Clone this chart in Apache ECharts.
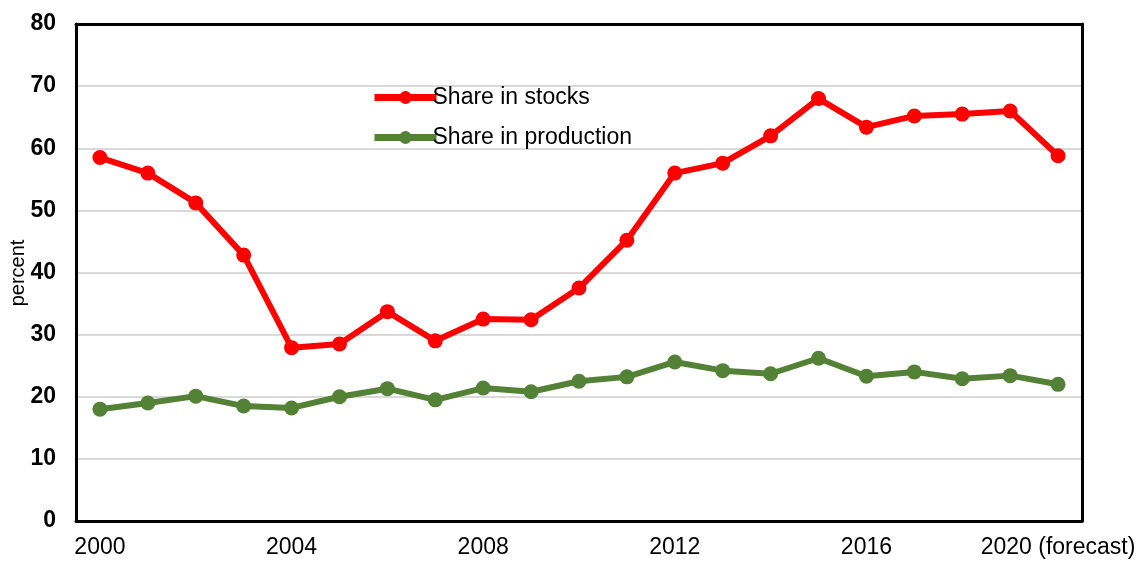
<!DOCTYPE html>
<html>
<head>
<meta charset="utf-8">
<script src="https://cdn.jsdelivr.net/npm/echarts@6/dist/echarts.min.js"></script>
<style>
  html, body { margin: 0; padding: 0; background: #fff; }
  #chart { width: 1140px; height: 562px; }
</style>
</head>
<body>
<div id="chart"></div>
<script>
var years = ['2000','2001','2002','2003','2004','2005','2006','2007','2008','2009',
  '2010','2011','2012','2013','2014','2015','2016','2017','2018','2019','2020 (forecast)'];

var shareStocks = [58.5, 56.0, 51.2, 42.8, 27.9, 28.5, 33.7, 29.0, 32.5, 32.4,
  37.5, 45.2, 56.0, 57.6, 62.0, 68.0, 63.4, 65.2, 65.5, 66.0, 58.8];

var shareProduction = [18.0, 19.0, 20.1, 18.5, 18.2, 20.0, 21.3, 19.5, 21.4, 20.8,
  22.5, 23.2, 25.6, 24.2, 23.7, 26.2, 23.3, 24.0, 22.9, 23.4, 22.0];

var myChart = echarts.init(document.getElementById('chart'));

// plain frame lines for the plot edges
var frameLine = { show: true, onZero: false, lineStyle: { color: '#000', width: 3 } };

var option = {
  animation: false,
  textStyle: { fontFamily: 'Liberation Sans, Arial, sans-serif' },
  grid: { left: 76, right: 58, top: 24, bottom: 41, outerBoundsMode: 'none' },
  legend: {
    orient: 'vertical',
    left: 366, top: 81,
    itemGap: 17,
    itemWidth: 62, itemHeight: 16,
    lineStyle: { width: 7 },
    textStyle: { fontSize: 23, color: '#000', padding: [0, 0, 0, -9] },
    data: ['Share in stocks', 'Share in production']
  },
  // y axis title, placed by hand next to the labels
  graphic: [{
    type: 'text',
    x: 18, y: 273,
    rotation: Math.PI / 2,
    style: {
      text: 'percent',
      fontSize: 20,
      fontFamily: 'Liberation Sans, Arial, sans-serif',
      fill: '#000',
      align: 'center',
      verticalAlign: 'middle'
    }
  }],
  xAxis: [
    {
      type: 'category',
      data: years,
      boundaryGap: true,
      axisLine: frameLine,
      axisTick: { show: false },
      axisLabel: { interval: 3, margin: 15, fontSize: 23, color: '#000' }
    },
    {
      type: 'category',
      data: years,
      position: 'top',
      axisLine: frameLine,
      axisTick: { show: false },
      axisLabel: { show: false }
    }
  ],
  yAxis: [
    {
      type: 'value',
      min: 0, max: 80, interval: 10,
      axisLine: frameLine,
      axisTick: { show: false },
      axisLabel: { margin: 20, fontSize: 23, fontWeight: 'bold', color: '#000' },
      splitLine: { lineStyle: { color: '#d9d9d9', width: 2 } }
    },
    {
      type: 'value',
      min: 0, max: 80, interval: 10,
      position: 'right',
      axisLine: frameLine,
      axisTick: { show: false },
      axisLabel: { show: false },
      splitLine: { show: false }
    }
  ],
  series: [
    {
      name: 'Share in stocks',
      type: 'line',
      data: shareStocks,
      symbol: 'circle',
      symbolSize: 15,
      itemStyle: { color: '#ff0000' },
      lineStyle: { color: '#ff0000', width: 6 }
    },
    {
      name: 'Share in production',
      type: 'line',
      data: shareProduction,
      symbol: 'circle',
      symbolSize: 15,
      itemStyle: { color: '#538135' },
      lineStyle: { color: '#538135', width: 6 }
    }
  ]
};

myChart.setOption(option);
</script>
</body>
</html>
